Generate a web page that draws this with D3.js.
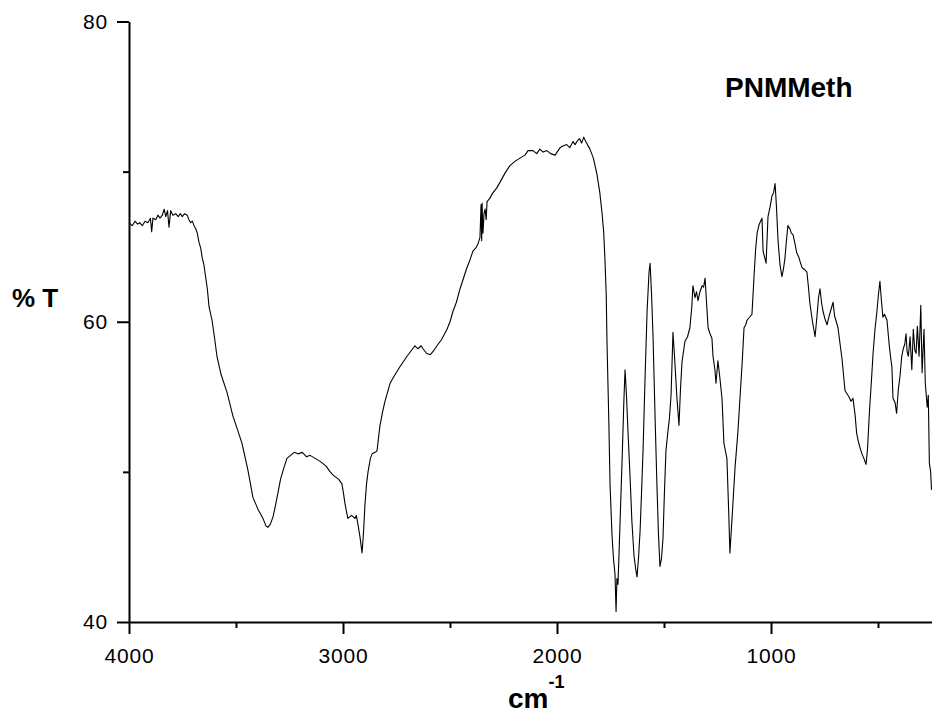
<!DOCTYPE html>
<html>
<head>
<meta charset="utf-8">
<script src="https://cdn.jsdelivr.net/npm/d3@7"></script>
<style>
  body { margin: 0; background: #fff; }
  svg { display: block; font-family: "Liberation Sans", Arial, sans-serif; }
</style>
</head>
<body>
<div id="chart"></div>
<script>
// wavenumber (cm-1), high to low
const wavenumber = [
  4000, 3985, 3972, 3960, 3950, 3938, 3925, 3912, 3900, 3894, 3888, 3875, 3865, 3855, 3844, 3836, 3828, 3820, 3813, 3805,
  3795, 3782, 3770, 3760, 3751, 3740, 3728, 3720, 3712, 3704, 3696, 3688, 3681, 3673, 3665, 3657, 3650, 3642, 3634, 3626,
  3612, 3600, 3589, 3570, 3542, 3514, 3495, 3472, 3458, 3444, 3421, 3397, 3385, 3374, 3360, 3351, 3340, 3327, 3315, 3304,
  3292, 3280, 3262, 3245, 3228, 3210, 3190, 3170, 3154, 3130, 3107, 3080, 3060, 3047, 3020, 3005, 2997, 2991, 2983, 2977,
  2960, 2944, 2938, 2930, 2920, 2911, 2904, 2897, 2890, 2883, 2872, 2864, 2850, 2841, 2833, 2827, 2815, 2804, 2792, 2780,
  2760, 2734, 2715, 2701, 2685, 2664, 2650, 2635, 2626, 2610, 2593, 2575, 2561, 2540, 2514, 2500, 2486, 2470, 2453, 2437,
  2421, 2407, 2393, 2380, 2369, 2360, 2355, 2352, 2350, 2346, 2341, 2336, 2331, 2327, 2315, 2299, 2282, 2266, 2243, 2220,
  2195, 2173, 2150, 2135, 2112, 2095, 2080, 2065, 2047, 2030, 2009, 1995, 1985, 1972, 1955, 1940, 1925, 1915, 1907, 1895,
  1885, 1875, 1869, 1858, 1846, 1830, 1813, 1800, 1790, 1782, 1776, 1770, 1766, 1758, 1752, 1743, 1736, 1729, 1724, 1720,
  1715, 1705, 1696, 1688, 1682, 1675, 1668, 1659, 1650, 1640, 1632, 1626, 1619, 1612, 1605, 1598, 1588, 1579, 1570, 1565,
  1558, 1551, 1542, 1533, 1526, 1519, 1512, 1505, 1498, 1491, 1481, 1475, 1467, 1458, 1450, 1440, 1430, 1423, 1416, 1402,
  1390, 1379, 1370, 1365, 1355, 1348, 1341, 1332, 1322, 1315, 1308, 1300, 1294, 1285, 1276, 1271, 1262, 1257, 1248, 1240,
  1229, 1220, 1206, 1198, 1192, 1180, 1168, 1155, 1145, 1135, 1126, 1118, 1112, 1100, 1089, 1079, 1072, 1065, 1055, 1042,
  1037, 1030, 1023, 1014, 1005, 995, 988, 981, 975, 967, 958, 949, 942, 935, 928, 921, 912, 905, 897, 888,
  880, 870, 864, 855, 845, 832, 825, 818, 806, 794, 785, 778, 771, 764, 757, 748, 738, 728, 718, 710,
  703, 695, 687, 678, 668, 660, 654, 645, 636, 626, 617, 607, 600, 593, 584, 575, 566, 556, 549, 540,
  531, 523, 514, 505, 498, 491, 484, 477, 470, 458, 448, 440, 435, 430, 420, 413, 405, 397, 389, 382,
  375, 369, 364, 358, 350, 342, 335, 328, 322, 316, 308, 300, 294, 285, 279, 270, 265, 260, 254, 250
];

// % transmittance at each wavenumber above
const transmittance = [
  66.6, 66.4, 66.7, 66.5, 66.6, 66.4, 66.7, 66.6, 66.9, 66.0, 66.9, 66.8, 67.1, 66.9, 67.1, 67.5, 67.0, 67.4, 66.3, 67.4,
  67.1, 67.2, 67.0, 67.2, 67.0, 67.2, 67.1, 66.8, 66.6, 66.7, 66.4, 66.2, 65.9, 65.3, 64.9, 64.2, 63.8, 63.0, 62.2, 61.0,
  60.1, 58.9, 57.7, 56.5, 55.3, 53.7, 52.9, 51.9, 51.0, 50.1, 48.3, 47.5, 47.2, 46.9, 46.4, 46.3, 46.5, 47.0, 47.8, 48.6,
  49.5, 50.1, 50.9, 51.1, 51.3, 51.2, 51.3, 51.0, 51.1, 50.9, 50.7, 50.4, 50.0, 49.8, 49.5, 49.2, 48.5, 47.9, 47.3, 46.9,
  47.1, 46.9, 47.1, 46.5, 45.6, 44.6, 46.0, 47.9, 49.2, 50.0, 50.9, 51.2, 51.3, 51.4, 52.4, 53.1, 54.0, 54.7, 55.3, 55.9,
  56.4, 57.0, 57.4, 57.7, 58.0, 58.4, 58.2, 58.4, 58.2, 57.9, 57.8, 58.1, 58.4, 58.8, 59.5, 60.0, 60.7, 61.3, 62.2, 62.9,
  63.6, 64.1, 64.7, 64.9, 65.2, 65.6, 67.8, 65.4, 67.9, 65.9, 67.2, 67.5, 66.8, 68.0, 68.2, 68.6, 68.9, 69.3, 69.9, 70.4,
  70.7, 70.9, 71.1, 71.4, 71.4, 71.2, 71.5, 71.3, 71.4, 71.2, 71.1, 71.4, 71.6, 71.7, 71.8, 71.6, 72.0, 71.8, 72.0, 72.2,
  71.9, 72.3, 72.1, 71.8, 71.5, 70.9, 69.8, 68.6, 67.3, 66.0, 64.2, 61.8, 58.4, 53.5, 49.1, 45.8, 44.2, 43.2, 40.7, 42.9,
  42.5, 46.8, 50.7, 54.5, 56.8, 55.0, 52.6, 49.8, 46.7, 44.4, 43.5, 43.0, 44.3, 46.0, 48.6, 51.4, 56.5, 60.7, 63.3, 63.9,
  61.8, 58.9, 53.8, 49.1, 45.9, 43.7, 44.2, 45.5, 48.6, 51.4, 52.8, 53.5, 55.1, 59.3, 57.5, 55.0, 53.1, 55.5, 57.3, 58.7,
  59.0, 59.6, 61.0, 62.4, 61.6, 62.0, 61.4, 62.0, 62.4, 62.3, 62.9, 61.0, 59.6, 59.2, 58.9, 57.7, 56.8, 55.9, 57.4, 56.4,
  54.9, 51.9, 50.9, 47.5, 44.6, 47.4, 50.3, 52.6, 54.9, 57.2, 59.6, 59.8, 60.1, 60.3, 60.5, 63.1, 64.8, 65.9, 66.5, 66.9,
  64.7, 64.3, 63.9, 67.0, 67.6, 68.4, 68.6, 69.2, 67.8, 65.4, 63.8, 63.0, 63.5, 64.2, 65.4, 66.4, 66.2, 65.9, 65.8, 65.2,
  64.6, 64.3, 64.0, 63.6, 63.5, 63.3, 62.3, 61.2, 60.0, 59.0, 60.4, 61.6, 62.2, 61.3, 60.7, 60.2, 59.8, 60.4, 60.9, 61.3,
  60.4, 60.0, 59.6, 58.6, 57.5, 56.3, 55.4, 55.2, 55.0, 54.7, 54.9, 53.8, 52.6, 52.1, 51.6, 51.2, 50.9, 50.5, 51.5, 54.0,
  56.0, 57.9, 59.5, 60.7, 61.8, 62.7, 61.4, 60.3, 60.5, 60.1, 58.5, 57.5, 57.0, 54.9, 54.6, 53.9, 55.5, 56.4, 57.7, 58.2,
  58.5, 59.2, 58.0, 57.7, 59.0, 56.8, 59.5, 58.1, 57.9, 59.7, 57.7, 61.1, 56.6, 59.5, 55.9, 54.3, 55.1, 50.6, 50.0, 48.8
];

const xMajorTicks = [4000, 3000, 2000, 1000];
const xMinorTicks = [3500, 2500, 1500, 500];
const yMajorTicks = [80, 60, 40];
const yMinorTicks = [70, 50];

const sampleName = "PNMMeth";

/***** setup *****/
const width = 932;
const height = 717;
const margin = {top: 21.5, left: 129, right: 0.5, bottom: 95};

const svg = d3.select("#chart").append("svg")
    .attr("width", width)
    .attr("height", height);

svg.append("rect")
    .attr("width", width)
    .attr("height", height)
    .attr("fill", "#fff");

const xScale = d3.scaleLinear()
    .domain([4000, 250])
    .range([margin.left, width - margin.right]);

const yScale = d3.scaleLinear()
    .domain([40, 80])
    .range([height - margin.bottom, margin.top]);

const tickFont = 21;

/***** axes *****/
// minor ticks first, majors on top
svg.append("g")
    .attr("transform", `translate(0, ${yScale(40)})`)
    .call(d3.axisBottom(xScale).tickValues(xMinorTicks).tickSize(6).tickFormat(""))
    .call(g => g.select(".domain").remove());

svg.append("g")
    .attr("transform", `translate(${xScale(4000)}, 0)`)
    .call(d3.axisLeft(yScale).tickValues(yMinorTicks).tickSize(6).tickFormat(""))
    .call(g => g.select(".domain").remove());

const xAxis = svg.append("g")
    .attr("transform", `translate(0, ${yScale(40)})`)
    .call(d3.axisBottom(xScale)
        .tickValues(xMajorTicks)
        .tickSize(12)
        .tickSizeOuter(0)
        .tickPadding(14)
        .tickFormat(d3.format("d")));

const yAxis = svg.append("g")
    .attr("transform", `translate(${xScale(4000)}, 0)`)
    .call(d3.axisLeft(yScale)
        .tickValues(yMajorTicks)
        .tickSize(12)
        .tickSizeOuter(0)
        .tickPadding(9));

svg.selectAll(".tick line").attr("stroke", "#000").attr("stroke-width", 2);
svg.selectAll(".domain").attr("stroke", "#000").attr("stroke-width", 2);
svg.selectAll(".tick text")
    .attr("fill", "#000")
    .style("font-size", tickFont + "px")
    .style("letter-spacing", "0.8px")
    .style("font-family", "'Liberation Sans', Arial, sans-serif");

/***** spectrum *****/
const spectrum = wavenumber.map((w, i) => ({w: w, t: transmittance[i]}));

const line = d3.line()
    .x(d => xScale(d.w))
    .y(d => yScale(d.t));

svg.append("path")
    .datum(spectrum)
    .attr("fill", "none")
    .attr("stroke", "#000")
    .attr("stroke-width", 1.1)
    .attr("stroke-linejoin", "round")
    .attr("d", line);

/***** labels *****/
svg.append("text")
    .attr("x", 12)
    .attr("y", 307)
    .style("font-size", "26px")
    .style("font-weight", "bold")
    .text("% T");

const xTitle = svg.append("text")
    .attr("x", 508)
    .attr("y", 708)
    .style("font-size", "28px")
    .style("font-weight", "bold");
xTitle.append("tspan").text("cm");
xTitle.append("tspan")
    .attr("dy", -20)
    .style("font-size", "18px")
    .text("-1");

svg.append("text")
    .attr("x", 725)
    .attr("y", 97)
    .style("font-size", "28px")
    .style("font-weight", "bold")
    .text(sampleName);
</script>
</body>
</html>
